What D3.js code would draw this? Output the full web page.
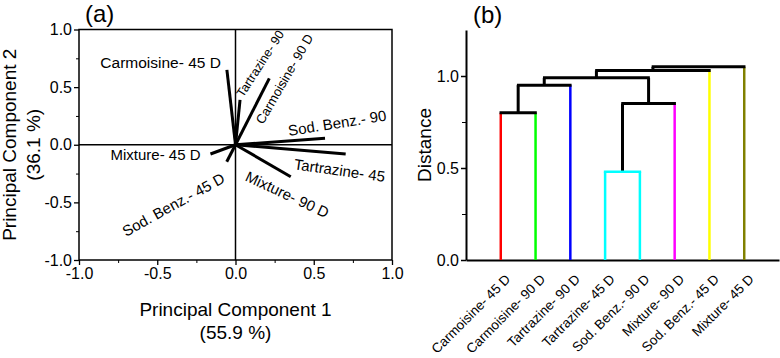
<!DOCTYPE html>
<html>
<head>
<meta charset="utf-8">
<script src="https://cdn.jsdelivr.net/npm/d3@7"></script>
<style>
body { margin: 0; background: #fff; }
text { font-family: "Liberation Sans", Arial, sans-serif; fill: #000; }
</style>
</head>
<body>
<div id="container"></div>
<script>
// ---- panel (a): PCA loadings ----
const variables = ["Carmoisine- 45 D", "Tartrazine- 90", "Carmoisine- 90 D", "Sod. Benz.- 90",
                   "Tartrazine- 45", "Mixture- 90 D", "Mixture- 45 D", "Sod. Benz.- 45 D"];
const pc1 = [-0.055, 0.029, 0.216, 0.572, 0.704, 0.353, -0.16, -0.056];
const pc2 = [0.65, 0.39, 0.576, 0.056, -0.08, -0.277, -0.08, -0.147];
const pcTicks = [-1, -0.5, 0, 0.5, 1];
const pcMinor = [-0.75, -0.25, 0.25, 0.75];

// label anchors (data units) and angles
const labelX = [-0.093, 0.048, 0.176, 0.342, 0.37, 0.056, -0.799, -0.70];
const labelY = [0.666, 0.405, 0.171, 0.076, -0.212, -0.308, -0.132, -0.80];
const labelAngle = [0, -57, -60, -9, 8, 25, 0, -29];
const labelSize = [15.5, 12.5, 13, 15, 15, 15, 15, 15];
const labelAnchor = ["end", "start", "start", "start", "start", "start", "start", "start"];

// ---- panel (b): dendrogram ----
const leaves = ["Carmoisine- 45 D", "Carmoisine- 90 D", "Tartrazine- 90 D", "Tartrazine- 45 D",
                "Sod. Benz.- 90 D", "Mixture- 90 D", "Sod. Benz.- 45 D", "Mixture- 45 D"];
const leafColors = ["#ff0000", "#00ff00", "#0000ff", "#00ffff", "#00ffff", "#ff00ff", "#ffff00", "#808000"];
// [left, right, height]; new cluster ids start at leaves.length
const merges = [[0, 1, 0.80], [3, 4, 0.48], [8, 2, 0.95], [9, 5, 0.85],
                [10, 11, 0.99], [12, 6, 1.03], [13, 7, 1.05]];
const distTicks = [0, 0.5, 1];
const distMinor = [0.25, 0.75];

const W = 780, H = 358;
const svg = d3.select("#container").append("svg")
    .attr("width", W).attr("height", H);

const fmt = d => d.toFixed(1);

// ===== panel a =====
const x = d3.scaleLinear().domain([-1, 1]).range([79, 392]);
const y = d3.scaleLinear().domain([-1, 1]).range([260, 29.5]);

const ga = svg.append("g");

ga.append("g")
    .attr("transform", `translate(0,${y(-1)})`)
    .call(d3.axisBottom(x).tickValues(pcMinor).tickSize(3).tickFormat(""))
    .call(g => g.select(".domain").remove());
ga.append("g")
    .attr("transform", `translate(${x(-1)},0)`)
    .call(d3.axisLeft(y).tickValues(pcMinor).tickSize(3).tickFormat(""))
    .call(g => g.select(".domain").remove());

const xa = ga.append("g")
    .attr("transform", `translate(0,${y(-1)})`)
    .call(d3.axisBottom(x).tickValues(pcTicks).tickSize(5).tickPadding(3).tickFormat(fmt));
const ya = ga.append("g")
    .attr("transform", `translate(${x(-1)},0)`)
    .call(d3.axisLeft(y).tickValues(pcTicks).tickSize(5).tickPadding(2).tickFormat(fmt));
[xa, ya].forEach(a => {
    a.selectAll("text").style("font-size", "16px").style("font-family", "Liberation Sans, Arial, sans-serif");
    a.selectAll("line").attr("stroke-width", 1.3);
    a.select(".domain").remove();
});

ga.append("rect")
    .attr("x", x(-1)).attr("y", y(1))
    .attr("width", x(1) - x(-1)).attr("height", y(-1) - y(1))
    .attr("fill", "none").attr("stroke", "#000").attr("stroke-width", 1.5);
ga.append("line")
    .attr("x1", x(0)).attr("x2", x(0)).attr("y1", y(1)).attr("y2", y(-1))
    .attr("stroke", "#000").attr("stroke-width", 1.5);
ga.append("line")
    .attr("x1", x(-1)).attr("x2", x(1)).attr("y1", y(0)).attr("y2", y(0))
    .attr("stroke", "#000").attr("stroke-width", 1.5);

ga.append("g").selectAll("line")
    .data(variables)
    .join("line")
    .attr("x1", x(0)).attr("y1", y(0))
    .attr("x2", (d, i) => x(pc1[i]))
    .attr("y2", (d, i) => y(pc2[i]))
    .attr("stroke", "#000").attr("stroke-width", 3);

ga.append("g").selectAll("text")
    .data(variables)
    .join("text")
    .attr("transform", (d, i) => `translate(${x(labelX[i])},${y(labelY[i])}) rotate(${labelAngle[i]})`)
    .attr("text-anchor", (d, i) => labelAnchor[i])
    .style("font-size", (d, i) => labelSize[i] + "px")
    .text(d => d);

ga.append("text").attr("x", 85).attr("y", 22).style("font-size", "24px").text("(a)");
ga.append("text").attr("x", x(0)).attr("y", 316).attr("text-anchor", "middle")
    .style("font-size", "19px").text("Principal Component 1");
ga.append("text").attr("x", x(0)).attr("y", 339).attr("text-anchor", "middle")
    .style("font-size", "19px").text("(55.9 %)");
ga.append("text").attr("transform", `translate(16,${y(0)}) rotate(-90)`).attr("text-anchor", "middle")
    .style("font-size", "19px").text("Principal Component 2");
ga.append("text").attr("transform", `translate(40,${y(0)}) rotate(-90)`).attr("text-anchor", "middle")
    .style("font-size", "19px").text("(36.1 %)");

// ===== panel b =====
const xb = d3.scalePoint().domain(leaves).range([466, 779]).padding(1);
const yb = d3.scaleLinear().domain([0, 1.25]).range([260, 30]);

const gb = svg.append("g");

gb.append("g")
    .attr("transform", `translate(${xb.range()[0]},0)`)
    .call(d3.axisLeft(yb).tickValues(distMinor).tickSize(4).tickFormat(""))
    .call(g => g.select(".domain").remove());
const yax = gb.append("g")
    .attr("transform", `translate(${xb.range()[0]},0)`)
    .call(d3.axisLeft(yb).tickValues(distTicks).tickSize(5).tickPadding(2).tickSizeOuter(0).tickFormat(fmt));
const xax = gb.append("g")
    .attr("transform", `translate(0,${yb(0)})`)
    .call(d3.axisBottom(xb).tickSize(0).tickSizeOuter(0));
[yax, xax].forEach(a => {
    a.selectAll("text").style("font-family", "Liberation Sans, Arial, sans-serif");
    a.selectAll("line").attr("stroke-width", 1.5);
    a.select(".domain").attr("stroke-width", 2);
});
yax.selectAll("text").style("font-size", "16px");
xax.selectAll("text")
    .style("font-size", "13.5px")
    .attr("text-anchor", "end")
    .attr("y", 0).attr("dy", 0)
    .attr("transform", "translate(10,20) rotate(-45)");

// dendrogram links
const nodeX = leaves.map(l => xb(l));
const nodeH = leaves.map(() => 0);
const isLeaf = i => i < leaves.length;
const verts = [], horiz = [];
merges.forEach(([a, b, h]) => {
    [a, b].forEach(c => verts.push({x: nodeX[c], y0: nodeH[c], y1: h,
        color: isLeaf(c) ? leafColors[c] : "#000"}));
    const same = isLeaf(a) && isLeaf(b) && leafColors[a] === leafColors[b];
    horiz.push({x0: nodeX[a], x1: nodeX[b], y: h, color: same ? leafColors[a] : "#000"});
    nodeX.push((nodeX[a] + nodeX[b]) / 2);
    nodeH.push(h);
});

gb.append("g").selectAll("line")
    .data(verts)
    .join("line")
    .attr("x1", d => d.x).attr("x2", d => d.x)
    .attr("y1", d => yb(d.y0)).attr("y2", d => yb(d.y1))
    .attr("stroke", d => d.color)
    .attr("stroke-width", d => d.color === "#000" ? 3 : 2.5);
gb.append("g").selectAll("line")
    .data(horiz)
    .join("line")
    .attr("x1", d => d.x0 - 1.25).attr("x2", d => d.x1 + 1.25)
    .attr("y1", d => yb(d.y)).attr("y2", d => yb(d.y))
    .attr("stroke", d => d.color)
    .attr("stroke-width", d => d.color === "#000" ? 3 : 2.5);

gb.append("text").attr("x", 473).attr("y", 23).style("font-size", "24px").text("(b)");
gb.append("text").attr("transform", `translate(431,${yb(0.625)}) rotate(-90)`).attr("text-anchor", "middle")
    .style("font-size", "19px").text("Distance");
</script>
</body>
</html>
